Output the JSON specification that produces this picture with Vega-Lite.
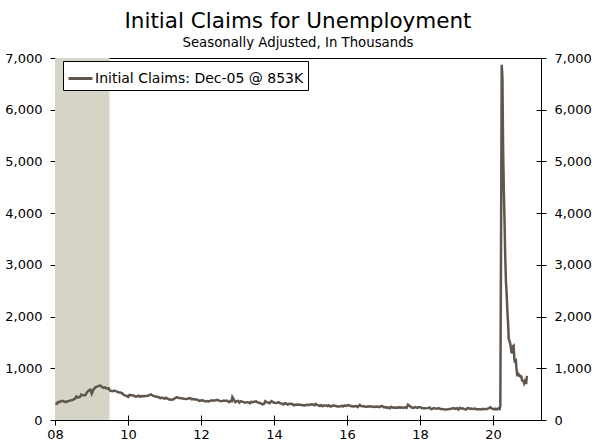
{
  "$schema": "https://vega.github.io/schema/vega-lite/v6.json",
  "width": 486,
  "height": 362,
  "autosize": {"type": "none"},
  "padding": {"left": 55, "top": 58, "right": 55, "bottom": 23},
  "background": "white",
  "title": {
    "text": "Initial Claims for Unemployment",
    "subtitle": "Seasonally Adjusted, In Thousands",
    "anchor": "middle",
    "frame": "group",
    "font": "DejaVu Sans",
    "fontSize": 21.5,
    "fontWeight": "normal",
    "color": "black",
    "subtitleFont": "DejaVu Sans",
    "subtitleFontSize": 13.3,
    "subtitleColor": "black",
    "subtitlePadding": 3,
    "offset": 3
  },
  "config": {
    "view": {"stroke": "black", "strokeWidth": 1},
    "legend": {
      "labelFont": "DejaVu Sans",
      "labelFontSize": 14,
      "labelColor": "black"
    }
  },
  "datasets": {
    "recessions": [{"start": "2007-12-01", "end": "2009-06-30"}],
    "claims": [
      {"date": "2008-01-05", "claims": 324}, {"date": "2008-01-19", "claims": 315},
      {"date": "2008-02-02", "claims": 350}, {"date": "2008-02-16", "claims": 344},
      {"date": "2008-03-01", "claims": 365}, {"date": "2008-03-15", "claims": 372},
      {"date": "2008-04-05", "claims": 357}, {"date": "2008-04-19", "claims": 345},
      {"date": "2008-05-03", "claims": 365}, {"date": "2008-05-17", "claims": 367},
      {"date": "2008-06-07", "claims": 380}, {"date": "2008-06-21", "claims": 385},
      {"date": "2008-07-05", "claims": 400}, {"date": "2008-07-19", "claims": 410},
      {"date": "2008-08-02", "claims": 455}, {"date": "2008-08-16", "claims": 432},
      {"date": "2008-09-06", "claims": 445}, {"date": "2008-09-20", "claims": 495},
      {"date": "2008-10-04", "claims": 478}, {"date": "2008-10-18", "claims": 479},
      {"date": "2008-11-01", "claims": 481}, {"date": "2008-11-15", "claims": 533},
      {"date": "2008-12-06", "claims": 573}, {"date": "2008-12-20", "claims": 586},
      {"date": "2009-01-03", "claims": 510}, {"date": "2009-01-17", "claims": 580},
      {"date": "2009-02-07", "claims": 630}, {"date": "2009-02-21", "claims": 645},
      {"date": "2009-03-07", "claims": 650}, {"date": "2009-03-21", "claims": 665},
      {"date": "2009-04-04", "claims": 660}, {"date": "2009-04-18", "claims": 635},
      {"date": "2009-05-02", "claims": 620}, {"date": "2009-05-16", "claims": 630},
      {"date": "2009-06-06", "claims": 605}, {"date": "2009-06-20", "claims": 615},
      {"date": "2009-07-04", "claims": 570}, {"date": "2009-07-18", "claims": 560},
      {"date": "2009-08-01", "claims": 555}, {"date": "2009-08-15", "claims": 570},
      {"date": "2009-09-05", "claims": 555}, {"date": "2009-09-19", "claims": 545},
      {"date": "2009-10-03", "claims": 530}, {"date": "2009-10-17", "claims": 530},
      {"date": "2009-11-07", "claims": 510}, {"date": "2009-11-21", "claims": 480},
      {"date": "2009-12-05", "claims": 475}, {"date": "2009-12-19", "claims": 465},
      {"date": "2010-01-02", "claims": 445}, {"date": "2010-01-16", "claims": 485},
      {"date": "2010-02-06", "claims": 480}, {"date": "2010-02-20", "claims": 475},
      {"date": "2010-03-06", "claims": 465}, {"date": "2010-03-20", "claims": 450},
      {"date": "2010-04-03", "claims": 460}, {"date": "2010-04-17", "claims": 470},
      {"date": "2010-05-01", "claims": 450}, {"date": "2010-05-15", "claims": 465},
      {"date": "2010-06-05", "claims": 460}, {"date": "2010-06-19", "claims": 465},
      {"date": "2010-07-03", "claims": 465}, {"date": "2010-07-17", "claims": 470},
      {"date": "2010-08-07", "claims": 485}, {"date": "2010-08-21", "claims": 495},
      {"date": "2010-09-04", "claims": 470}, {"date": "2010-09-18", "claims": 465},
      {"date": "2010-10-02", "claims": 455}, {"date": "2010-10-16", "claims": 450},
      {"date": "2010-11-06", "claims": 440}, {"date": "2010-11-20", "claims": 420},
      {"date": "2010-12-04", "claims": 435}, {"date": "2010-12-18", "claims": 425},
      {"date": "2011-01-01", "claims": 410}, {"date": "2011-01-15", "claims": 430},
      {"date": "2011-02-05", "claims": 410}, {"date": "2011-02-19", "claims": 395},
      {"date": "2011-03-05", "claims": 390}, {"date": "2011-03-19", "claims": 395},
      {"date": "2011-04-02", "claims": 400}, {"date": "2011-04-16", "claims": 425},
      {"date": "2011-05-07", "claims": 440}, {"date": "2011-05-21", "claims": 425},
      {"date": "2011-06-04", "claims": 425}, {"date": "2011-06-18", "claims": 420},
      {"date": "2011-07-02", "claims": 415}, {"date": "2011-07-16", "claims": 410},
      {"date": "2011-08-06", "claims": 405}, {"date": "2011-08-20", "claims": 410},
      {"date": "2011-09-03", "claims": 420}, {"date": "2011-09-17", "claims": 420},
      {"date": "2011-10-01", "claims": 400}, {"date": "2011-10-15", "claims": 405},
      {"date": "2011-11-05", "claims": 395}, {"date": "2011-11-19", "claims": 395},
      {"date": "2011-12-03", "claims": 385}, {"date": "2011-12-17", "claims": 370},
      {"date": "2012-01-07", "claims": 380}, {"date": "2012-01-21", "claims": 378},
      {"date": "2012-02-04", "claims": 365}, {"date": "2012-02-18", "claims": 360},
      {"date": "2012-03-03", "claims": 365}, {"date": "2012-03-17", "claims": 360},
      {"date": "2012-04-07", "claims": 375}, {"date": "2012-04-21", "claims": 380},
      {"date": "2012-05-05", "claims": 375}, {"date": "2012-05-19", "claims": 375},
      {"date": "2012-06-02", "claims": 385}, {"date": "2012-06-16", "claims": 385},
      {"date": "2012-07-07", "claims": 370}, {"date": "2012-07-21", "claims": 365},
      {"date": "2012-08-04", "claims": 370}, {"date": "2012-08-18", "claims": 375},
      {"date": "2012-09-01", "claims": 370}, {"date": "2012-09-15", "claims": 375},
      {"date": "2012-10-06", "claims": 345}, {"date": "2012-10-20", "claims": 370},
      {"date": "2012-11-03", "claims": 360}, {"date": "2012-11-10", "claims": 445},
      {"date": "2012-11-24", "claims": 400}, {"date": "2012-12-08", "claims": 345},
      {"date": "2012-12-22", "claims": 365},
      {"date": "2013-01-05", "claims": 370}, {"date": "2013-01-19", "claims": 335},
      {"date": "2013-02-02", "claims": 365}, {"date": "2013-02-16", "claims": 355},
      {"date": "2013-03-02", "claims": 345}, {"date": "2013-03-16", "claims": 335},
      {"date": "2013-04-06", "claims": 345}, {"date": "2013-04-20", "claims": 340},
      {"date": "2013-05-04", "claims": 325}, {"date": "2013-05-18", "claims": 350},
      {"date": "2013-06-01", "claims": 345}, {"date": "2013-06-15", "claims": 355},
      {"date": "2013-07-06", "claims": 360}, {"date": "2013-07-20", "claims": 340},
      {"date": "2013-08-03", "claims": 335}, {"date": "2013-08-17", "claims": 325},
      {"date": "2013-09-07", "claims": 300}, {"date": "2013-09-21", "claims": 310},
      {"date": "2013-10-05", "claims": 365}, {"date": "2013-10-19", "claims": 345},
      {"date": "2013-11-02", "claims": 340}, {"date": "2013-11-16", "claims": 325},
      {"date": "2013-12-07", "claims": 365}, {"date": "2013-12-21", "claims": 345},
      {"date": "2014-01-04", "claims": 335}, {"date": "2014-01-18", "claims": 330},
      {"date": "2014-02-01", "claims": 335}, {"date": "2014-02-15", "claims": 345},
      {"date": "2014-03-01", "claims": 325}, {"date": "2014-03-15", "claims": 320},
      {"date": "2014-04-05", "claims": 300}, {"date": "2014-04-19", "claims": 325},
      {"date": "2014-05-03", "claims": 320}, {"date": "2014-05-17", "claims": 300},
      {"date": "2014-06-07", "claims": 315}, {"date": "2014-06-21", "claims": 315},
      {"date": "2014-07-05", "claims": 305}, {"date": "2014-07-19", "claims": 285},
      {"date": "2014-08-02", "claims": 295}, {"date": "2014-08-16", "claims": 300},
      {"date": "2014-09-06", "claims": 295}, {"date": "2014-09-20", "claims": 295},
      {"date": "2014-10-04", "claims": 290}, {"date": "2014-10-18", "claims": 285},
      {"date": "2014-11-01", "claims": 280}, {"date": "2014-11-15", "claims": 290},
      {"date": "2014-12-06", "claims": 295}, {"date": "2014-12-20", "claims": 290},
      {"date": "2015-01-03", "claims": 300}, {"date": "2015-01-17", "claims": 305},
      {"date": "2015-02-07", "claims": 285}, {"date": "2015-02-21", "claims": 310},
      {"date": "2015-03-07", "claims": 290}, {"date": "2015-03-21", "claims": 285},
      {"date": "2015-04-04", "claims": 270}, {"date": "2015-04-18", "claims": 290},
      {"date": "2015-05-02", "claims": 265}, {"date": "2015-05-16", "claims": 280},
      {"date": "2015-06-06", "claims": 280}, {"date": "2015-06-20", "claims": 270},
      {"date": "2015-07-04", "claims": 285}, {"date": "2015-07-18", "claims": 260},
      {"date": "2015-08-01", "claims": 270}, {"date": "2015-08-15", "claims": 280},
      {"date": "2015-09-05", "claims": 275}, {"date": "2015-09-19", "claims": 265},
      {"date": "2015-10-03", "claims": 260}, {"date": "2015-10-17", "claims": 260},
      {"date": "2015-11-07", "claims": 275}, {"date": "2015-11-21", "claims": 260},
      {"date": "2015-12-05", "claims": 280}, {"date": "2015-12-19", "claims": 270},
      {"date": "2016-01-02", "claims": 280}, {"date": "2016-01-16", "claims": 290},
      {"date": "2016-02-06", "claims": 270}, {"date": "2016-02-20", "claims": 265},
      {"date": "2016-03-05", "claims": 260}, {"date": "2016-03-19", "claims": 265},
      {"date": "2016-04-02", "claims": 270}, {"date": "2016-04-16", "claims": 250},
      {"date": "2016-05-07", "claims": 290}, {"date": "2016-05-21", "claims": 270},
      {"date": "2016-06-04", "claims": 265}, {"date": "2016-06-18", "claims": 265},
      {"date": "2016-07-02", "claims": 255}, {"date": "2016-07-16", "claims": 255},
      {"date": "2016-08-06", "claims": 265}, {"date": "2016-08-20", "claims": 260},
      {"date": "2016-09-03", "claims": 260}, {"date": "2016-09-17", "claims": 255},
      {"date": "2016-10-01", "claims": 250}, {"date": "2016-10-15", "claims": 260},
      {"date": "2016-11-05", "claims": 255}, {"date": "2016-11-19", "claims": 250},
      {"date": "2016-12-03", "claims": 265}, {"date": "2016-12-17", "claims": 270},
      {"date": "2017-01-07", "claims": 245}, {"date": "2017-01-21", "claims": 250},
      {"date": "2017-02-04", "claims": 235}, {"date": "2017-02-18", "claims": 245},
      {"date": "2017-03-04", "claims": 225}, {"date": "2017-03-18", "claims": 255},
      {"date": "2017-04-01", "claims": 240}, {"date": "2017-04-15", "claims": 235},
      {"date": "2017-05-06", "claims": 240}, {"date": "2017-05-20", "claims": 235},
      {"date": "2017-06-03", "claims": 250}, {"date": "2017-06-17", "claims": 240},
      {"date": "2017-07-01", "claims": 245}, {"date": "2017-07-15", "claims": 235},
      {"date": "2017-08-05", "claims": 245}, {"date": "2017-08-19", "claims": 235},
      {"date": "2017-09-02", "claims": 295}, {"date": "2017-09-09", "claims": 285},
      {"date": "2017-09-23", "claims": 265}, {"date": "2017-10-07", "claims": 245},
      {"date": "2017-10-21", "claims": 235}, {"date": "2017-11-04", "claims": 240},
      {"date": "2017-11-18", "claims": 250}, {"date": "2017-12-02", "claims": 235},
      {"date": "2017-12-16", "claims": 245},
      {"date": "2018-01-06", "claims": 245}, {"date": "2018-01-20", "claims": 225},
      {"date": "2018-02-03", "claims": 225}, {"date": "2018-02-17", "claims": 225},
      {"date": "2018-03-03", "claims": 225}, {"date": "2018-03-17", "claims": 230},
      {"date": "2018-04-07", "claims": 242}, {"date": "2018-04-21", "claims": 210},
      {"date": "2018-05-05", "claims": 215}, {"date": "2018-05-19", "claims": 232},
      {"date": "2018-06-02", "claims": 225}, {"date": "2018-06-16", "claims": 220},
      {"date": "2018-07-07", "claims": 230}, {"date": "2018-07-21", "claims": 215},
      {"date": "2018-08-04", "claims": 215}, {"date": "2018-08-18", "claims": 210},
      {"date": "2018-09-01", "claims": 205}, {"date": "2018-09-15", "claims": 205},
      {"date": "2018-10-06", "claims": 210}, {"date": "2018-10-20", "claims": 215},
      {"date": "2018-11-03", "claims": 215}, {"date": "2018-11-17", "claims": 225},
      {"date": "2018-12-01", "claims": 230}, {"date": "2018-12-15", "claims": 215},
      {"date": "2019-01-05", "claims": 230}, {"date": "2019-01-19", "claims": 200},
      {"date": "2019-02-02", "claims": 235}, {"date": "2019-02-16", "claims": 220},
      {"date": "2019-03-02", "claims": 225}, {"date": "2019-03-16", "claims": 215},
      {"date": "2019-04-06", "claims": 200}, {"date": "2019-04-20", "claims": 230},
      {"date": "2019-05-04", "claims": 228}, {"date": "2019-05-18", "claims": 215},
      {"date": "2019-06-01", "claims": 220}, {"date": "2019-06-15", "claims": 215},
      {"date": "2019-07-06", "claims": 220}, {"date": "2019-07-20", "claims": 205},
      {"date": "2019-08-03", "claims": 210}, {"date": "2019-08-17", "claims": 210},
      {"date": "2019-09-07", "claims": 205}, {"date": "2019-09-21", "claims": 215},
      {"date": "2019-10-05", "claims": 210}, {"date": "2019-10-19", "claims": 215},
      {"date": "2019-11-02", "claims": 215}, {"date": "2019-11-16", "claims": 225},
      {"date": "2019-12-07", "claims": 245}, {"date": "2019-12-21", "claims": 220},
      {"date": "2020-01-04", "claims": 214}, {"date": "2020-01-11", "claims": 207},
      {"date": "2020-01-18", "claims": 217}, {"date": "2020-01-25", "claims": 216},
      {"date": "2020-02-01", "claims": 203}, {"date": "2020-02-08", "claims": 206},
      {"date": "2020-02-15", "claims": 219}, {"date": "2020-02-22", "claims": 220},
      {"date": "2020-02-29", "claims": 217}, {"date": "2020-03-07", "claims": 211},
      {"date": "2020-03-14", "claims": 282}, {"date": "2020-03-21", "claims": 3307},
      {"date": "2020-03-28", "claims": 6867}, {"date": "2020-04-04", "claims": 6615},
      {"date": "2020-04-11", "claims": 5237}, {"date": "2020-04-18", "claims": 4442},
      {"date": "2020-04-25", "claims": 3867}, {"date": "2020-05-02", "claims": 3176},
      {"date": "2020-05-09", "claims": 2687}, {"date": "2020-05-16", "claims": 2446},
      {"date": "2020-05-23", "claims": 2123}, {"date": "2020-05-30", "claims": 1897},
      {"date": "2020-06-06", "claims": 1566}, {"date": "2020-06-13", "claims": 1540},
      {"date": "2020-06-20", "claims": 1482}, {"date": "2020-06-27", "claims": 1413},
      {"date": "2020-07-04", "claims": 1310}, {"date": "2020-07-11", "claims": 1307},
      {"date": "2020-07-18", "claims": 1422}, {"date": "2020-07-25", "claims": 1435},
      {"date": "2020-08-01", "claims": 1191}, {"date": "2020-08-08", "claims": 1104},
      {"date": "2020-08-15", "claims": 1186}, {"date": "2020-08-22", "claims": 1011},
      {"date": "2020-08-29", "claims": 881}, {"date": "2020-09-05", "claims": 893},
      {"date": "2020-09-12", "claims": 866}, {"date": "2020-09-19", "claims": 873},
      {"date": "2020-09-26", "claims": 849}, {"date": "2020-10-03", "claims": 845},
      {"date": "2020-10-10", "claims": 842}, {"date": "2020-10-17", "claims": 769},
      {"date": "2020-10-24", "claims": 758}, {"date": "2020-10-31", "claims": 757},
      {"date": "2020-11-07", "claims": 711}, {"date": "2020-11-14", "claims": 748},
      {"date": "2020-11-21", "claims": 716}, {"date": "2020-11-28", "claims": 716},
      {"date": "2020-12-05", "claims": 853}
    ]
  },
  "layer": [
    {
      "data": {"name": "recessions"},
      "mark": {"type": "rect", "color": "#d6d3c7", "clip": true},
      "encoding": {
        "x": {
          "field": "start",
          "type": "temporal",
          "scale": {"domain": [{"year": 2008, "month": 1, "date": 1}, {"year": 2021, "month": 4, "date": 25}]},
          "axis": {
            "orient": "bottom",
            "values": [{"year": 2008}, {"year": 2010}, {"year": 2012}, {"year": 2014}, {"year": 2016}, {"year": 2018}, {"year": 2020}],
            "format": "%y",
            "title": null,
            "grid": false,
            "domainOpacity": 0,
            "tickColor": "black",
            "tickSize": 10,
            "offset": -5,
            "labelFont": "DejaVu Sans",
            "labelFontSize": 13,
            "labelColor": "black",
            "labelFlush": false,
            "labelPadding": 3
          }
        },
        "x2": {"field": "end"},
        "y": {
          "datum": 0,
          "type": "quantitative",
          "scale": {"domain": [0, 7000]},
          "axis": {
            "orient": "right",
            "values": [0, 1000, 2000, 3000, 4000, 5000, 6000, 7000],
            "format": ",.0f",
            "title": null,
            "grid": false,
            "domainOpacity": 0,
            "tickColor": "black",
            "tickSize": 10,
            "offset": -5,
            "labelFont": "DejaVu Sans",
            "labelFontSize": 13,
            "labelColor": "black",
            "labelPadding": 8
          }
        },
        "y2": {"datum": 7000}
      }
    },
    {
      "data": {"name": "claims"},
      "mark": {"type": "line", "strokeWidth": 2.5, "clip": true},
      "encoding": {
        "x": {
          "field": "date",
          "type": "temporal",
          "scale": {"domain": [{"year": 2008, "month": 1, "date": 1}, {"year": 2021, "month": 4, "date": 25}]},
          "axis": {
            "orient": "bottom",
            "values": [{"year": 2008}, {"year": 2010}, {"year": 2012}, {"year": 2014}, {"year": 2016}, {"year": 2018}, {"year": 2020}],
            "format": "%y",
            "title": null,
            "grid": false,
            "domainOpacity": 0,
            "tickColor": "black",
            "tickSize": 10,
            "offset": -5,
            "labelFont": "DejaVu Sans",
            "labelFontSize": 13,
            "labelColor": "black",
            "labelFlush": false,
            "labelPadding": 3
          }
        },
        "y": {
          "field": "claims",
          "type": "quantitative",
          "scale": {"domain": [0, 7000]},
          "axis": {
            "orient": "left",
            "values": [0, 1000, 2000, 3000, 4000, 5000, 6000, 7000],
            "format": ",.0f",
            "title": null,
            "grid": false,
            "domainOpacity": 0,
            "tickColor": "black",
            "tickSize": 10,
            "offset": -5,
            "labelFont": "DejaVu Sans",
            "labelFontSize": 13,
            "labelColor": "black",
            "labelPadding": 8
          }
        },
        "color": {
          "datum": "Initial Claims: Dec-05 @ 853K",
          "type": "nominal",
          "scale": {"range": ["#5f564e"]},
          "legend": {
            "title": null,
            "orient": "none",
            "legendX": 8,
            "legendY": 3,
            "symbolType": "stroke",
            "symbolStrokeWidth": 3,
            "symbolSize": 576,
            "labelOffset": 1,
            "labelLimit": 400,
            "strokeColor": "black",
            "fillColor": "white",
            "padding": 4,
            "cornerRadius": 0
          }
        }
      }
    }
  ],
  "resolve": {"axis": {"y": "independent"}}
}
